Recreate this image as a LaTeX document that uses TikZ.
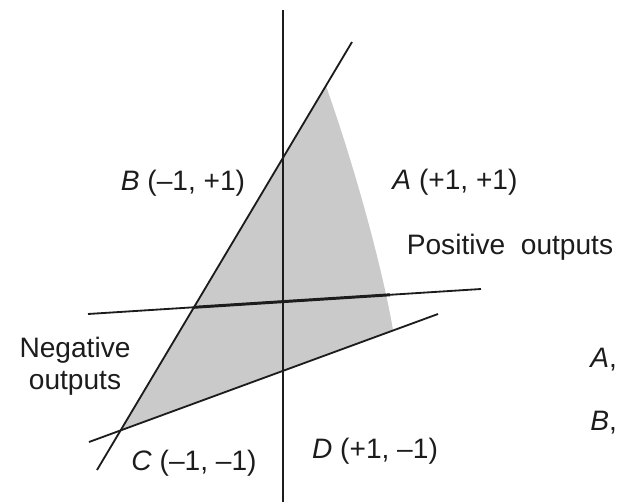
\documentclass[tikz,border=0pt]{standalone}
\usepackage{fontspec}
\setmainfont{Liberation Sans}
\usetikzlibrary{positioning}
\definecolor{ink}{HTML}{1C1C1C}
\definecolor{shade}{HTML}{CACACA}
\tikzset{
  axisline/.style={draw=ink,line width=1.1pt},
  boundline/.style={draw=ink,line width=1.3pt},
  heavyline/.style={draw=ink,line width=2.1pt},
  regionfill/.style={fill=shade,draw=none},
  plabel/.style={font=\fontsize{20}{23}\selectfont,text=ink,inner sep=0pt,align=center}
}

\begin{document}
\begin{tikzpicture}[x=0.25mm,y=-0.25mm]
  \useasboundingbox (0,0) rectangle (621,502);
  % end points of the lines
  \coordinate (vt) at (283,10);  \coordinate (vb) at (283,502);
  \coordinate (st) at (352,42);  \coordinate (sb) at (97,470);
  \coordinate (hl) at (88,314);  \coordinate (hr) at (481,289);
  \coordinate (ll) at (89,442);  \coordinate (lr) at (438,314);
  % corners of the shaded region
  \coordinate (rtop) at (326,86); \coordinate (rbot) at (393,330); \coordinate (rc) at (121,430);
  \coordinate (hin) at (194,307.3); \coordinate (hout) at (390,294.8);

  \fill[regionfill] (rtop) .. controls (360,182) and (385,282) .. (rbot) -- (rc) -- cycle;

  \draw[axisline] (vt) -- (vb);
  \draw[boundline] (st) -- (sb);
  \draw[boundline] (hl) -- (hr);
  \draw[heavyline] (hin) -- (hout);
  \draw[boundline] (ll) -- (lr);

  \node[plabel] (lb) at (183,183) {\textit{B} (–1, +1)};
  \node[plabel] (la) at (455,182) {\textit{A} (+1, +1)};
  \node[plabel] (pos) at (510,247) {Positive\ \ outputs};
  \node[plabel] (neg) at (75,366) {Negative\\outputs};
  \node[plabel] (lc) at (194,463) {\textit{C} (–1, –1)};
  \node[plabel] (ld) at (375,451) {\textit{D} (+1, –1)};
  \node[plabel,anchor=west] (ca) at (590,360) {\textit{A},};
  \node[plabel,anchor=west] (cb) at (590,423) {\textit{B},};
\end{tikzpicture}
\end{document}
